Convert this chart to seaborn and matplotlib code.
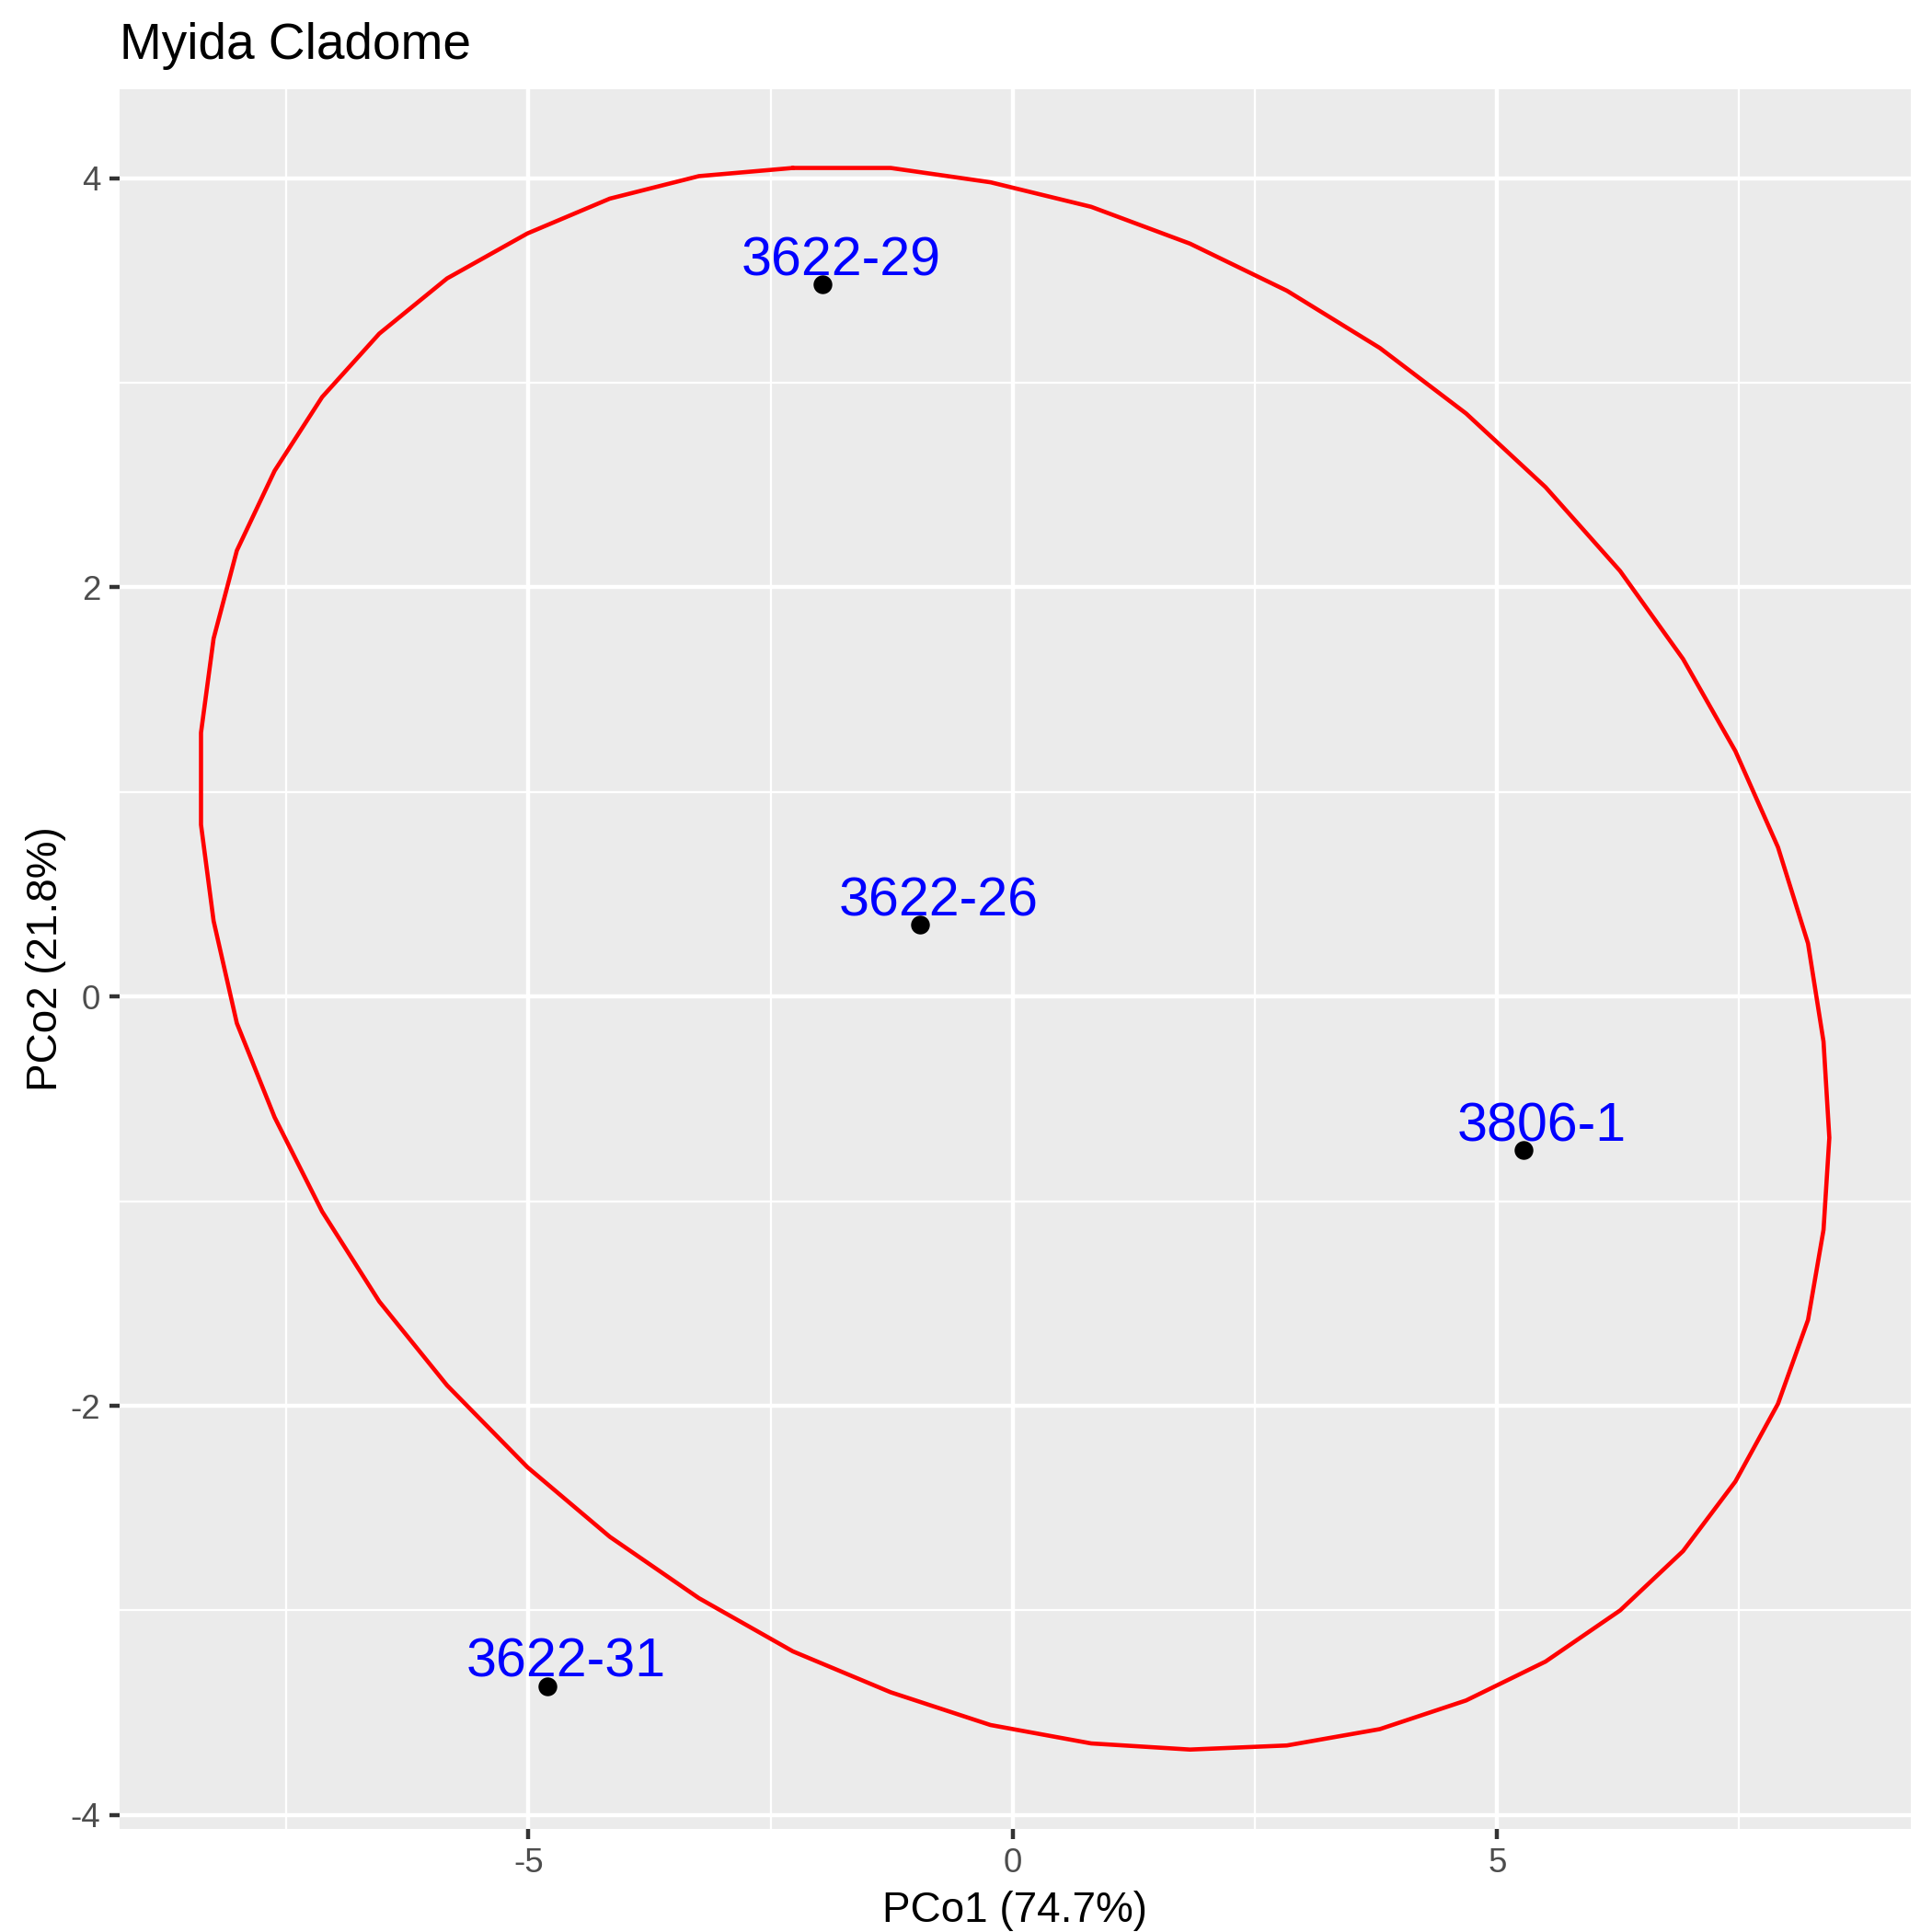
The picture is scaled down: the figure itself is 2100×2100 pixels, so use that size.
import matplotlib
matplotlib.use("Agg")
import matplotlib.pyplot as plt
import pandas as pd
import seaborn as sns

# ---------------- data ----------------
title = "Myida Cladome"
x_label = "PCo1 (74.7%)"
y_label = "PCo2 (21.8%)"

sample_ids = ["3622-29", "3622-26", "3806-1", "3622-31"]
pco1 = [-1.96, -0.96, 5.27, -4.80]
pco2 = [3.48, 0.35, -0.75, -3.37]

# confidence ellipse path (vertices)
ellipse_x = [-2.27, -1.26, -0.23, 0.81, 1.83, 2.83, 3.79, 4.68, 5.50, 6.27,
             6.92, 7.46, 7.90, 8.21, 8.37, 8.43, 8.37, 8.21, 7.90, 7.46,
             6.92, 6.27, 5.50, 4.68, 3.79, 2.83, 1.83, 0.81, -0.23, -1.26,
             -2.27, -3.24, -4.16, -5.01, -5.84, -6.54, -7.13, -7.62, -8.01, -8.25,
             -8.38, -8.38, -8.25, -8.01, -7.62, -7.13, -6.54, -5.84, -5.01, -4.16,
             -3.24, -2.27]
ellipse_y = [4.05, 4.05, 3.98, 3.86, 3.68, 3.45, 3.17, 2.85, 2.49, 2.08,
             1.65, 1.20, 0.73, 0.26, -0.22, -0.69, -1.14, -1.58, -1.99, -2.37,
             -2.71, -3.00, -3.25, -3.44, -3.58, -3.66, -3.68, -3.65, -3.56, -3.40,
             -3.20, -2.94, -2.64, -2.30, -1.90, -1.49, -1.05, -0.59, -0.13, 0.37,
             0.84, 1.29, 1.75, 2.18, 2.57, 2.93, 3.24, 3.51, 3.73, 3.90,
             4.01, 4.05]

x_major = [-5, 0, 5]
x_minor = [-7.5, -2.5, 2.5, 7.5]
y_major = [-4, -2, 0, 2, 4]
y_minor = [-3, -1, 1, 3]

points = pd.DataFrame({"id": sample_ids, "PCo1": pco1, "PCo2": pco2})
ellipse = pd.DataFrame({"x": ellipse_x, "y": ellipse_y, "order": range(len(ellipse_x))})

# ---------------- style ----------------
sns.set_theme(style="darkgrid")
plt.rcParams["font.family"] = ["Liberation Sans", "DejaVu Sans"]
plt.rcParams["axes.unicode_minus"] = False

fig = plt.figure(figsize=(7, 7), dpi=300)
ax = fig.add_axes([0.0619, 0.0535, 0.9271, 0.9005])
ax.set_facecolor("#EBEBEB")
for s in ax.spines.values():
    s.set_visible(False)

sns.lineplot(data=ellipse, x="x", y="y", sort=False, estimator=None,
             color="red", linewidth=1.1, ax=ax, zorder=3)
sns.scatterplot(data=points, x="PCo1", y="PCo2", color="black", s=24,
                linewidth=0, ax=ax, zorder=4)

for _, r in points.iterrows():
    ax.annotate(r["id"], (r["PCo1"], r["PCo2"]), xytext=(4.8, 2.4),
                textcoords="offset points", ha="center", va="baseline",
                color="blue", fontsize=14.2, zorder=5)

ax.margins(0.05)
ax.set_xticks(x_major)
ax.set_xticks(x_minor, minor=True)
ax.set_yticks(y_major)
ax.set_yticks(y_minor, minor=True)
ax.set_xticklabels([str(v) for v in x_major])
ax.set_yticklabels([str(v) for v in y_major])

ax.grid(which="major", color="white", linewidth=1.07)
ax.grid(which="minor", color="white", linewidth=0.53)
ax.set_axisbelow(True)

ax.tick_params(which="major", length=2.75, width=1.07, color="#333333",
               labelsize=8.8, labelcolor="#4D4D4D", pad=2.2,
               bottom=True, left=True)
ax.tick_params(which="minor", length=0)

ax.set_xlabel(x_label, fontsize=11, color="black", labelpad=2.75)
ax.set_ylabel(y_label, fontsize=11, color="black", labelpad=1.2)

fig.text(0.0619, 0.9695, title, fontsize=13.2, color="black",
         ha="left", va="baseline")

fig.savefig("out.png", dpi=300)
